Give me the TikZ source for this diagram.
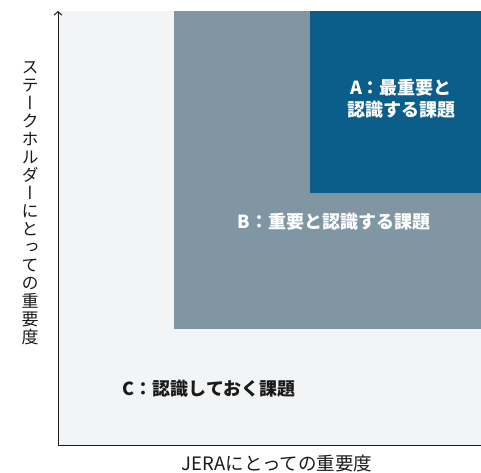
\documentclass[tikz,border=0pt]{standalone}
\usepackage{fontspec}
\setmainfont{Noto Sans CJK JP}
\newfontfamily\cjkv[RawFeature=+vert]{Noto Sans CJK JP}
\usetikzlibrary{arrows.meta}
\definecolor{bglight}{HTML}{F2F4F6}
\definecolor{midgray}{HTML}{8096A2}
\definecolor{darkblue}{HTML}{0B5E8A}
\definecolor{txt}{HTML}{1A1A1A}
\tikzset{
  lbl/.style={font=\fontsize{18}{22}\selectfont\bfseries, inner sep=0pt, align=center},
  axlbl/.style={font=\fontsize{18.5}{18}\selectfont, text=txt, inner sep=0pt, align=center},
  axis/.style={line width=1pt, draw=txt}
}
\begin{document}
\begin{tikzpicture}[x=1pt,y=-1pt]
\useasboundingbox (0,0) rectangle (481,472);
\fill[bglight] (58,11) rectangle (481,445);
\fill[midgray] (174,11) rectangle (481,329);
\fill[darkblue] (310,11) rectangle (481,193);
\node[lbl, text=white] (a) at (401,99) {A：最重要と\\認識する課題};
\node[lbl, text=white] (b) at (334,222) {B：重要と認識する課題};
\node[lbl, text=txt] (c) at (209,389) {C：認識しておく課題};
\coordinate (o) at (58,445);
\coordinate (top) at (58,11);
\coordinate (right) at (481,445);
\draw[axis, -{Straight Barb[length=3.5pt,width=8pt]}] (o) -- (top);
\draw[axis] (o) -- (right);
\node[axlbl] (xl) at (277,463) {JERAにとっての重要度};
\node[axlbl, font=\fontsize{17}{18}\selectfont\cjkv] (yl) at (30,203) {ス\\テ\\ー\\ク\\ホ\\ル\\ダ\\ー\\に\\と\\っ\\て\\の\\重\\要\\度};
\end{tikzpicture}
\end{document}
